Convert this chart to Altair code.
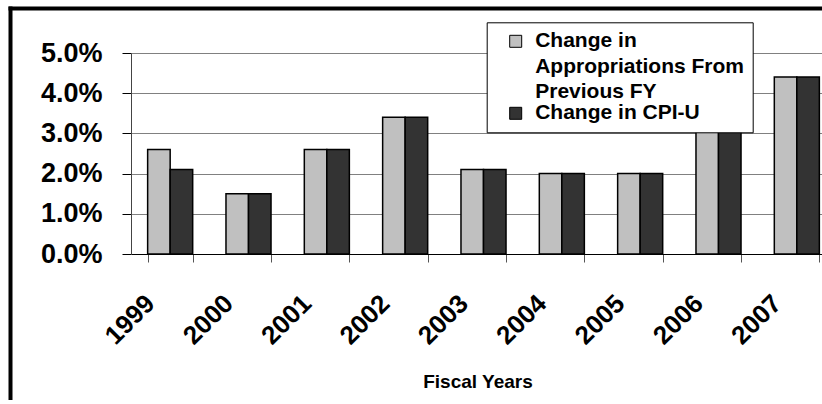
import altair as alt
import pandas as pd

years = ["1999", "2000", "2001", "2002", "2003", "2004", "2005", "2006", "2007"]
approp = [2.6, 1.5, 2.6, 3.4, 2.1, 2.0, 2.0, 3.3, 4.4]
cpi = [2.1, 1.5, 2.6, 3.4, 2.1, 2.0, 2.0, 3.3, 4.4]
series_lines = [["Change in", "Appropriations From", "Previous FY"], ["Change in CPI-U"]]
series = [" ".join(l) for l in series_lines]
colors = ["#C0C0C0", "#333333"]
y_ticks = [0.0, 1.0, 2.0, 3.0, 4.0, 5.0]

rows = []
for i, yr in enumerate(years):
    rows.append({"year": yr, "series": series[0], "value": approp[i] / 100})
    rows.append({"year": yr, "series": series[1], "value": cpi[i] / 100})
df = pd.DataFrame(rows)

expr = "datum.label"
for name, lines in reversed(list(zip(series, series_lines))):
    arr = "[" + ",".join("'%s'" % l for l in lines) + "]"
    expr = "datum.label === '%s' ? %s : (%s)" % (name, arr, expr)

FONT = "Liberation Sans"

# outer chart frame: top and left edges as thin filled bands
frame_top = alt.Chart(alt.Data(values=[{}])).mark_rect(
    color="black", strokeWidth=0
).encode(x=alt.value(-122.5), x2=alt.value(691), y=alt.value(-46.5), y2=alt.value(-42.5))
frame_left = alt.Chart(alt.Data(values=[{}])).mark_rect(
    color="black", strokeWidth=0
).encode(x=alt.value(-122.5), x2=alt.value(-118.5), y=alt.value(-46.5), y2=alt.value(347))

bars = alt.Chart(df).mark_bar(stroke="black", strokeWidth=1.5, clip=True).encode(
    x=alt.X(
        "year:N",
        sort=years,
        scale=alt.Scale(range=[0, 705], paddingInner=0.425, paddingOuter=0.2125),
        axis=alt.Axis(
            title="Fiscal Years",
            titleFont=FONT, titleFontSize=19, titleFontWeight="bold", titleColor="black",
            titleX=346.5, titleY=127.7, titleBaseline="middle", titleAlign="center",
            labelAngle=-45, labelAlign="right", labelBaseline="middle",
            labelFont=FONT, labelFontSize=26, labelFontWeight="bold", labelColor="black",
            labelPadding=37, labelOffset=-20, labelOverlap=False, labelBound=False,
            tickBand="extent", tickSize=8, tickColor="#555555",
            domainColor="black", grid=False,
        ),
    ),
    xOffset=alt.XOffset("series:N", sort=series),
    y=alt.Y(
        "value:Q",
        scale=alt.Scale(domain=[0, 0.05], nice=False),
        axis=alt.Axis(
            title=None, values=[v / 100 for v in y_ticks], format=".1%",
            labelFont=FONT, labelFontSize=27, labelFontWeight="bold", labelColor="black",
            labelPadding=20, tickSize=9, tickColor="black", domainColor="#444444",
            grid=True, gridColor="#808080", gridWidth=1,
        ),
    ),
    color=alt.Color(
        "series:N",
        scale=alt.Scale(domain=series, range=colors),
        legend=alt.Legend(
            title=None, orient="none", legendX=355.7, legendY=-30.7,
            fillColor="white", strokeColor="black", padding=8.5, rowPadding=-2,
            symbolType="square", symbolSize=144, symbolOffset=10,
            symbolStrokeColor="black", symbolStrokeWidth=1, symbolOpacity=1,
            labelFont=FONT, labelFontSize=21, labelFontWeight="bold", labelColor="black",
            labelOffset=9, labelLimit=0, labelExpr=expr, zindex=1,
        ),
    ),
)

chart = alt.layer(frame_top, frame_left, bars).properties(
    width=691, height=201,
    autosize=alt.AutoSizeParams(type="none"),
    padding={"left": 131, "top": 53, "right": 0, "bottom": 146},
    background="white",
).configure(
    style={"guide-label": {"lineHeight": 25.5}},
).configure_view(stroke="transparent")

chart.save("out.html", embed_options={"renderer": "svg", "actions": False})
